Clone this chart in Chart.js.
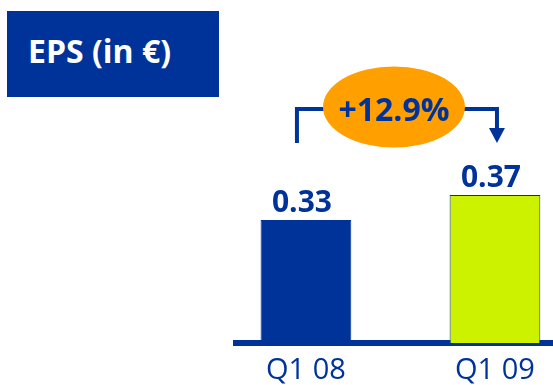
<!DOCTYPE html>
<html>
<head>
<meta charset="utf-8">
<script src="https://cdn.jsdelivr.net/npm/chart.js@4"></script>
<style>
    html, body { margin: 0; padding: 0; background: #fff; overflow: hidden; }
    #wrap { position: relative; width: 553px; height: 385px; }
    #title {
        position: absolute; left: 7px; top: 11px; width: 191px; height: 86px;
        padding-left: 21px; background: #003399; color: #fff;
        font: bold 32px 'Open Sans', sans-serif; line-height: 80px;
    }
    canvas { position: absolute; left: 0; top: 0; }
</style>
</head>
<body>
<div id="wrap">
    <div id="title">EPS (in €)</div>
    <canvas id="chart" width="553" height="385"></canvas>
</div>
<script>
const categories = ['Q1 08', 'Q1 09'];
const eps = [0.33, 0.37];
const barColors = ['#003399', '#ccf200'];
const growthLabel = '+12.9%';

const BLUE = '#003399';
const ORANGE = '#ffa000';

// value labels, bracket arrow and growth bubble
const annotations = {
    id: 'annotations',
    afterDatasetsDraw(chart) {
        const ctx = chart.ctx;
        const bars = chart.getDatasetMeta(0).data;
        ctx.save();
        ctx.fillStyle = BLUE;
        ctx.font = 'bold 30px "Open Sans", sans-serif';
        ctx.textAlign = 'center';
        ctx.textBaseline = 'alphabetic';
        bars.forEach((bar, i) => {
            ctx.fillText(eps[i].toFixed(2), bar.x - 4, bar.y - 8);
        });

        const x1 = bars[0].x - 9;
        const x2 = bars[1].x + 2;
        const yTop = 109;
        const yEnd = 143;
        ctx.strokeStyle = BLUE;
        ctx.lineWidth = 4;
        ctx.beginPath();
        ctx.moveTo(x1, yEnd);
        ctx.lineTo(x1, yTop);
        ctx.lineTo(x2, yTop);
        ctx.lineTo(x2, yEnd - 14);
        ctx.stroke();
        ctx.beginPath();
        ctx.moveTo(x2 - 8, yEnd - 15);
        ctx.lineTo(x2 + 8, yEnd - 15);
        ctx.lineTo(x2, yEnd);
        ctx.closePath();
        ctx.fill();

        const cx = (x1 + x2) / 2 - 3;
        ctx.fillStyle = ORANGE;
        ctx.beginPath();
        ctx.ellipse(cx, 107, 71, 40.5, 0, 0, Math.PI * 2);
        ctx.fill();
        ctx.fillStyle = BLUE;
        ctx.font = 'bold 32px "Open Sans", sans-serif';
        ctx.fillText(growthLabel, cx, 121);
        ctx.restore();
    }
};

new Chart(document.getElementById('chart'), {
    type: 'bar',
    data: {
        datasets: [{
            data: categories.map((c, i) => ({ x: i, y: eps[i] })),
            backgroundColor: barColors,
            borderColor: BLUE,
            borderWidth: 1,
            categoryPercentage: 1,
            barPercentage: 0.48
        }]
    },
    options: {
        responsive: false,
        animation: false,
        layout: { padding: { left: 236, right: 0, top: 0, bottom: 0 } },
        plugins: { legend: { display: false }, tooltip: { enabled: false } },
        scales: {
            x: {
                type: 'linear',
                offset: false,
                min: -0.37,
                max: 1.307,
                z: 1,
                afterBuildTicks: s => { s.ticks = categories.map((c, i) => ({ value: i })); },
                afterFit: s => { s.height = 42; },
                grid: { display: false, drawTicks: false, offset: false },
                border: { display: true, color: BLUE, width: 6 },
                ticks: {
                    padding: 10,
                    color: BLUE,
                    font: { family: 'Open Sans', size: 29 },
                    maxRotation: 0,
                    callback: v => categories[v]
                }
            },
            y: {
                display: false,
                min: 0.1332,
                max: 0.682
            }
        }
    },
    plugins: [annotations]
});
</script>
</body>
</html>
